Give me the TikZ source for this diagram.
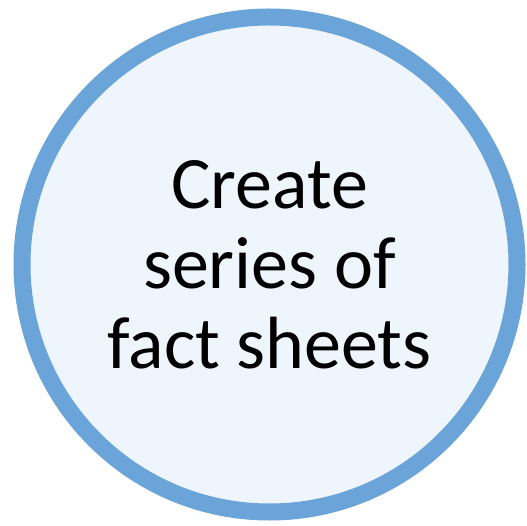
\documentclass[tikz,border=0pt]{standalone}
\usepackage{fontspec}
\setmainfont{Carlito}
\definecolor{ringblue}{HTML}{6AA4D8}
\definecolor{ringfill}{HTML}{EFF5FC}
\tikzset{circ/.style={circle,draw=ringblue,fill=ringfill,line width=17pt,minimum size=495pt,inner sep=0pt,align=center,font=\fontsize{74}{80}\selectfont}}
\begin{document}
\begin{tikzpicture}[x=1pt,y=1pt]
\useasboundingbox (0,0) rectangle (527,525);
\node[circ] (c) at (269.5,260.5) {Create\\series of\\fact sheets};
\end{tikzpicture}
\end{document}
